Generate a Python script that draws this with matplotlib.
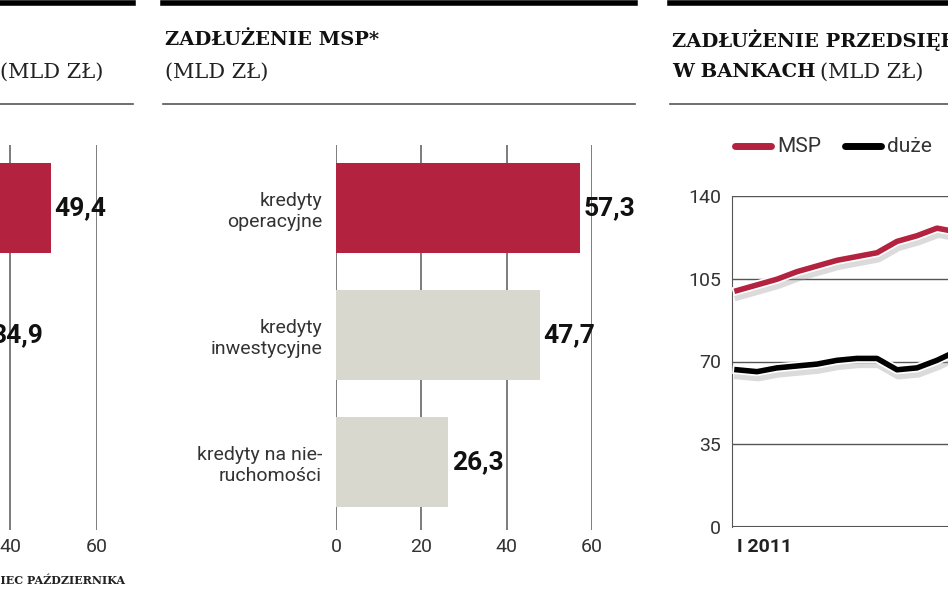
import matplotlib
matplotlib.use("Agg")
import matplotlib.pyplot as plt
import matplotlib.patheffects as pe
from matplotlib.lines import Line2D

W, H = 948, 593
RED = "#b3223f"
GREY = "#d9d8ce"
COND = ["Roboto", "DejaVu Sans"]
SERIF = ["DejaVu Serif"]

left_values = [49.4, 34.9]
mid_categories = ["kredyty\noperacyjne", "kredyty\ninwestycyjne", "kredyty na nie-\nruchomości"]
mid_values = [57.3, 47.7, 26.3]
mid_labels = ["57,3", "47,7", "26,3"]
left_labels = ["49,4", "34,9"]
months = list(range(12))
msp = [100, 102.4, 104.8, 108, 110.4, 112.8, 114.4, 116, 120.8, 123.2, 126.4, 124.8]
duze = [66.5, 65.7, 67.3, 68.1, 68.9, 70.5, 71.3, 71.3, 66.5, 67.3, 70.5, 74.5]
y_ticks = [0, 35, 70, 105, 140]

fig = plt.figure(figsize=(W / 100, H / 100), dpi=100)

def box(x0, y0, x1, y1):
    return [x0 / W, 1 - y1 / H, (x1 - x0) / W, (y1 - y0) / H]

def fx(x): return x / W
def fy(y): return 1 - y / H

for a, b in [(0, 133), (163, 635), (670, 948)]:
    fig.add_artist(Line2D([fx(a), fx(b)], [fy(2.5), fy(2.5)], color="black", lw=4))
    fig.add_artist(Line2D([fx(a), fx(b)], [fy(104), fy(104)], color="#555555", lw=1.2))

fig.text(fx(0), fy(72), "(MLD ZŁ)", family=SERIF, fontsize=15, va="center", ha="left", color="#222")
fig.text(fx(165), fy(40), "ZADŁUŻENIE MSP*", family=SERIF, fontsize=14, weight="bold", va="center", color="#111")
fig.text(fx(165), fy(72), "(MLD ZŁ)", family=SERIF, fontsize=15, va="center", color="#222")
fig.text(fx(672), fy(40), "ZADŁUŻENIE PRZEDSIĘBIORSTW", family=SERIF, fontsize=14, weight="bold", va="center", color="#111")
fig.text(fx(672), fy(72), "W BANKACH", family=SERIF, fontsize=14, weight="bold", va="center", color="#111")
fig.text(fx(820), fy(72), "(MLD ZŁ)", family=SERIF, fontsize=15, va="center", color="#222")
fig.text(fx(125), fy(580), "*DANE NA KONIEC PAŹDZIERNIKA", family=SERIF, fontsize=8, weight="bold", ha="right", va="center", color="#222")

ylim_rows = (2.535, -0.496)

axL = fig.add_axes(box(-164, 145, 97, 530))
axL.barh([0, 1], left_values, height=0.71, color=[RED, GREY], zorder=2)
for i, (v, t) in enumerate(zip(left_values, left_labels)):
    axL.text(v + 0.8, i, t, fontsize=19, weight="bold", family=COND, va="center", ha="left", color="#111", zorder=3)
axL.set_xlim(0, 60)
axL.set_ylim(*ylim_rows)
for s in axL.spines.values():
    s.set_visible(False)
for g in [20, 40, 60]:
    axL.axvline(g, color="#666", lw=1.2, zorder=1)
axL.set_xticks([40, 60])
axL.set_xticklabels(["40", "60"], family=COND, fontsize=14, color="#333")
axL.tick_params(length=0, pad=6)
axL.set_yticks([])

axM = fig.add_axes(box(336, 145, 592, 530))
axM.barh(range(3), mid_values, height=0.71, color=[RED, GREY, GREY], zorder=2)
for i, (v, t) in enumerate(zip(mid_values, mid_labels)):
    axM.text(v + 0.8, i, t, fontsize=19, weight="bold", family=COND, va="center", ha="left", color="#111", zorder=3)
axM.set_xlim(0, 60)
axM.set_ylim(*ylim_rows)
for s in axM.spines.values():
    s.set_visible(False)
for g in [0, 20, 40, 60]:
    axM.axvline(g, color="#666", lw=1.2, zorder=1)
axM.set_xticks([0, 20, 40, 60])
axM.set_xticklabels(["0", "20", "40", "60"], family=COND, fontsize=14, color="#333")
axM.set_yticks(range(3))
axM.set_yticklabels(mid_categories, family=COND, fontsize=14, color="#333", ha="right", linespacing=1.2)
axM.tick_params(length=0, pad=6)
axM.tick_params(axis="y", pad=10)

axR = fig.add_axes(box(732, 196, 1200, 527))
axR.set_ylim(0, 140)
axR.set_xlim(-0.25, (1200 - 732) / 20 - 0.25)
for yv in y_ticks[1:]:
    axR.axhline(yv, color="#555", lw=1, zorder=1)
for s in ["top", "right", "bottom"]:
    axR.spines[s].set_visible(False)
axR.spines["left"].set_color("#555")
axR.axhline(0, color="#555", lw=1.5)
effects = [pe.SimpleLineShadow(offset=(1, -4), shadow_color="#999", alpha=0.35, linewidth=6),
           pe.Stroke(linewidth=6.5, foreground="white"), pe.Normal()]
axR.plot(months, msp, color=RED, lw=4, path_effects=effects, zorder=3, solid_joinstyle="round")
axR.plot(months, duze, color="black", lw=4, path_effects=effects, zorder=3, solid_joinstyle="round")
axR.set_yticks(y_ticks)
axR.set_yticklabels([str(v) for v in y_ticks], family=COND, fontsize=14, color="#333")
axR.set_xticks([0])
axR.set_xticklabels(["I 2011"], family=COND, fontsize=14, weight="bold", color="#222", ha="left")
axR.tick_params(length=0, pad=8)

for x0, c, t in [(735, RED, "MSP"), (845, "black", "duże")]:
    fig.add_artist(Line2D([fx(x0), fx(x0 + 36)], [fy(146), fy(146)], color=c, lw=5, solid_capstyle="round"))
    fig.text(fx(x0 + 42), fy(146), t, family=COND, fontsize=15, va="center", color="#333")

fig.savefig("out.png", dpi=100)
